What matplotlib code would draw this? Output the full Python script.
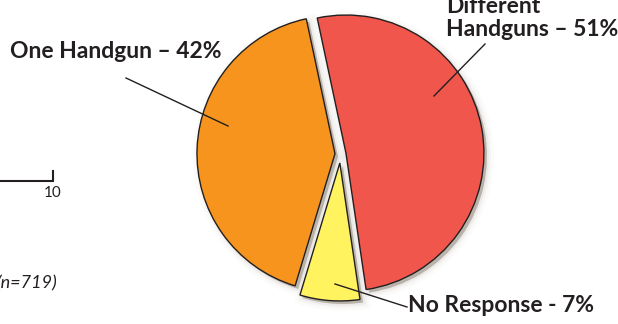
import matplotlib.pyplot as plt
from matplotlib.patches import Wedge

# handgun ownership split
labels = ["One Handgun – 42%", "No Response - 7%", "Different\nHandguns – 51%"]
shares = [42, 7, 51]
colors = ["#F7941E", "#FFF35F", "#F0564C"]
explode = [0.04, 0.065, 0.04]

W, H = 618, 324
fig = plt.figure(figsize=(W / 100, H / 100), dpi=100)
ax = fig.add_axes([0, 0, 1, 1])

cx, cy, r = 340.5, 170, 138
# pie() offsets by explode in data units, so scale by the radius
wedges, _ = ax.pie(shares, colors=colors, explode=[e * r for e in explode],
                   startangle=102, counterclock=True, center=(cx, cy), radius=r,
                   wedgeprops=dict(edgecolor="#231F20", linewidth=1.0),
                   normalize=True)
for w in wedges:
    w.set_zorder(3)

# soft drop shadow under each slice
for w in wedges:
    c = w.center
    for k, a in [(10, 0.035), (6, 0.05), (3, 0.1), (0, 0.6)]:
        s = Wedge((c[0] + 3, c[1] - 3), w.r, w.theta1, w.theta2,
                  facecolor="#A0968A", edgecolor="#A0968A",
                  linewidth=k, alpha=a, zorder=2)
        ax.add_patch(s)

ax.set_xlim(0, W)
ax.set_ylim(0, H)
ax.set_aspect("auto")
ax.axis("off")

font = dict(family="Lato", fontweight="bold", fontsize=16.5, color="#231F20")

# labels with leader lines (y flipped: pixel row -> H - row)
ax.text(10, H - 52, labels[0], ha="left", va="center", **font)
ax.plot([126, 228], [H - 78, H - 126], color="#231F20", lw=1, zorder=5)

ax.text(446, H - 18, labels[2], ha="left", va="center", linespacing=1.1, **font)
ax.plot([485, 434], [H - 44, H - 96], color="#231F20", lw=1, zorder=5)

ax.text(408, H - 305, labels[1], ha="left", va="center", **font)
ax.plot([335, 407], [H - 284, H - 307], color="#231F20", lw=1, zorder=5)

# leftover axis end of neighbouring bar chart
ax.plot([0, 53, 53], [H - 181, H - 181, H - 171], color="#231F20", lw=1.5,
        solid_joinstyle="miter")
ax.text(53, H - 193, "10", ha="center", va="center", family="Lato",
        fontsize=11, color="#231F20")
ax.text(-4, H - 283, "(n=719)", ha="left", va="center", family="Lato",
        style="italic", fontsize=13, color="#231F20")

fig.savefig("out.png", dpi=100)
